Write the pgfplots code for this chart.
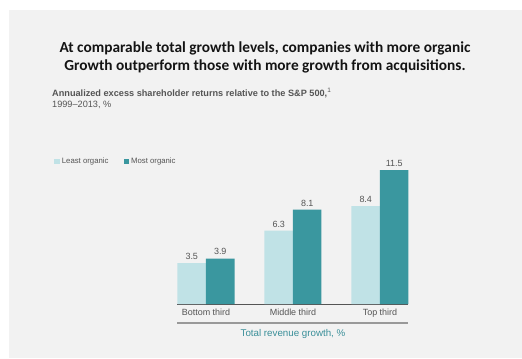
\documentclass[border=0pt]{standalone}
\usepackage{pgfplots}
\pgfplotsset{compat=1.18}
\usepackage{fontspec}
\setmainfont{Liberation Sans}
\newfontfamily\titlefont{Carlito}
\definecolor{panel}{HTML}{F2F2F2}
\definecolor{lightbar}{HTML}{C0E2E6}
\definecolor{darkbar}{HTML}{3A979F}
\definecolor{tealtext}{HTML}{3A8F99}
\definecolor{txt}{HTML}{555555}
\begin{document}
\begin{tikzpicture}[x=1bp,y=1bp]
\fill[white] (0,0) rectangle (522,358);
\fill[panel] (9,0) rectangle (522,348);
\node[font=\titlefont\bfseries\fontsize{15.4}{18}\selectfont, align=center, text=black!92] at (265,301)
  {At comparable total growth levels, companies with more organic\\Growth outperform those with more growth from acquisitions.};
\node[anchor=west, font=\fontsize{9.2}{11}\selectfont, align=left, text=txt, inner sep=0] at (52,260)
  {\textbf{Annualized excess shareholder returns relative to the S\&P 500,}\textsuperscript{1}\\1999--2013, \%};
\begin{axis}[
  at={(177bp,54bp)}, anchor=south west,
  scale only axis, width=231bp, height=139.8bp,
  xmin=-0.3333, xmax=2.322, ymin=0, ymax=12,
  axis y line=none, axis x line*=bottom,
  x axis line style={draw=txt, line width=0.9pt, -},
  xtick=data, xticklabels={Bottom third, Middle third, Top third},
  major tick length=0,
  xticklabel style={font=\fontsize{9}{10}\selectfont, text=txt, yshift=-1.5bp},
  ybar, bar width=28.5bp,
  nodes near coords,
  every node near coord/.append style={font=\fontsize{9}{10}\selectfont, text=txt, /pgf/number format/fixed, /pgf/number format/precision=1, /pgf/number format/fixed zerofill, /pgf/number format/assume math mode=true},
  legend style={at={(-0.545,1.02)}, anchor=west, draw=none, fill=none, font=\fontsize{7.8}{9}\selectfont, text=txt, legend columns=2, /tikz/every even column/.append style={column sep=13bp}},
  legend image code/.code={\fill[#1] (0bp,-2.8bp) rectangle (5.6bp,2.8bp);},
  clip=false,
]
\addplot[fill=lightbar, draw=none, bar shift=-14.25bp] coordinates {(0,3.5) (1,6.3) (2,8.4)};
\addplot[fill=darkbar, draw=none, bar shift=14.25bp] coordinates {(0,3.9) (1,8.1) (2,11.5)};
\legend{Least organic, Most organic}
\end{axis}
\draw[draw=black!40, line width=1.5bp] (177,35) -- (408,35);
\node[font=\fontsize{9.8}{11}\selectfont, text=tealtext] at (293,24) {Total revenue growth, \%};
\end{tikzpicture}
\end{document}
